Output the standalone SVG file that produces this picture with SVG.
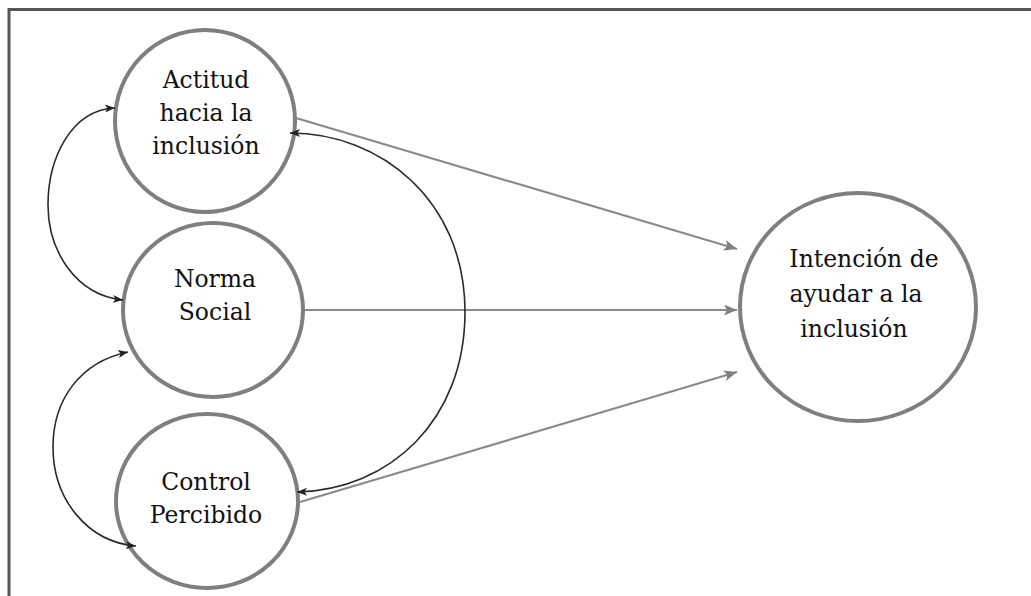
<svg xmlns="http://www.w3.org/2000/svg" width="1031" height="596" viewBox="0 0 1031 596">
<style>
.node{fill:#fff;stroke:#7f7f7f;stroke-width:4}
.lbl{font-family:"DejaVu Serif","Liberation Serif",serif;font-size:23.5px;fill:#111;text-anchor:middle}
.gray{fill:none;stroke:#8a8a8a;stroke-width:2.2}
.blk{fill:none;stroke:#2a2a2a;stroke-width:1.6}
.frame{stroke:#555;stroke-width:3;fill:none}
</style>
<defs>
<marker id="ag" viewBox="0 0 13 11" refX="13" refY="5.5" markerWidth="13" markerHeight="11" markerUnits="userSpaceOnUse" orient="auto">
<path d="M0,0 L13,5.5 L0,11 L3,5.5 Z" fill="#808080"/>
</marker>
<marker id="ab" viewBox="0 0 10 8" refX="10" refY="4" markerWidth="10" markerHeight="8" markerUnits="userSpaceOnUse" orient="auto-start-reverse">
<path d="M0,0 L10,4 L0,8 L2.5,4 Z" fill="#222"/>
</marker>
</defs>
<rect width="1031" height="596" fill="#fff"/>
<path class="frame" d="M9,596 L9,9.5 L1031,9.5"/>
<g id="actitud">
<ellipse class="node" cx="205" cy="121" rx="90" ry="91"/>
<text class="lbl" x="206" y="88">Actitud</text>
<text class="lbl" x="206" y="121">hacia la</text>
<text class="lbl" x="206" y="154">inclusión</text>
</g>
<g id="norma">
<ellipse class="node" cx="213" cy="310" rx="90" ry="87"/>
<text class="lbl" x="215" y="287">Norma</text>
<text class="lbl" x="215" y="320">Social</text>
</g>
<g id="control">
<ellipse class="node" cx="207" cy="501" rx="91" ry="87"/>
<text class="lbl" x="206" y="490">Control</text>
<text class="lbl" x="206" y="523">Percibido</text>
</g>
<g id="intencion">
<ellipse class="node" cx="858" cy="307" rx="118" ry="114"/>
<text class="lbl" x="864" y="267">Intención de</text>
<text class="lbl" x="856" y="302">ayudar a la</text>
<text class="lbl" x="854" y="337">inclusión</text>
</g>
<g id="connectors">
<line class="gray" x1="296" y1="118" x2="737" y2="249" marker-end="url(#ag)"/>
<line class="gray" x1="305" y1="310" x2="737" y2="310" marker-end="url(#ag)"/>
<line class="gray" x1="300" y1="502" x2="737" y2="372" marker-end="url(#ag)"/>
<path class="blk" d="M290,133 C380,133 465,200 465,312 C465,420 390,490 297,492" marker-start="url(#ab)" marker-end="url(#ab)"/>
<path class="blk" d="M115,108 C70,110 48,160 48,205 C48,250 75,295 123,300" marker-start="url(#ab)" marker-end="url(#ab)"/>
<path class="blk" d="M128,352 C80,362 53,400 53,447 C53,500 88,542 136,546" marker-start="url(#ab)" marker-end="url(#ab)"/>
</g>
</svg>
